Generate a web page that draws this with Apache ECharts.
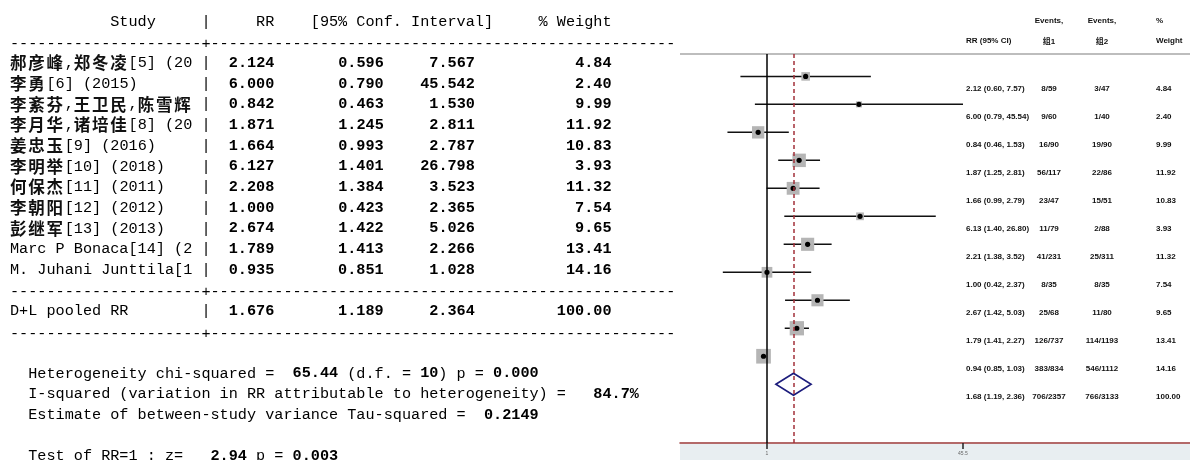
<!DOCTYPE html>
<html><head><meta charset="utf-8">
<script src="https://cdn.jsdelivr.net/npm/echarts@6/dist/echarts.min.js"></script>
<style>html,body{margin:0;padding:0;background:#fff}#c{width:1190px;height:460px}</style>
</head><body><div id="c"></div>
<script>
// ---------- data ----------
const studies = ['郝彦峰,郑冬凌[5] (20', '李勇[6] (2015)', '李紊芬,王卫民,陈雪辉', '李月华,诸培佳[8] (20',
  '姜忠玉[9] (2016)', '李明举[10] (2018)', '何保杰[11] (2011)', '李朝阳[12] (2012)', '彭继军[13] (2013)',
  'Marc P Bonaca[14] (2', 'M. Juhani Junttila[1'];
const rr      = [2.124, 6.000, 0.842, 1.871, 1.664, 6.127, 2.208, 1.000, 2.674, 1.789, 0.935];
const ciLow   = [0.596, 0.790, 0.463, 1.245, 0.993, 1.401, 1.384, 0.423, 1.422, 1.413, 0.851];
const ciHigh  = [7.567, 45.542, 1.530, 2.811, 2.787, 26.798, 3.523, 2.365, 5.026, 2.266, 1.028];
const weights = [4.84, 2.40, 9.99, 11.92, 10.83, 3.93, 11.32, 7.54, 9.65, 13.41, 14.16];
const events1 = ['8/59', '9/60', '16/90', '56/117', '23/47', '11/79', '41/231', '8/35', '25/68', '126/737', '383/834'];
const events2 = ['3/47', '1/40', '19/90', '22/86', '15/51', '2/88', '25/311', '8/35', '11/80', '114/1193', '546/1112'];
const pooledLabel = 'D+L pooled RR';
const pooledRR = 1.676, pooledLow = 1.189, pooledHigh = 2.364, pooledWeight = 100.00;
const pooledEvents1 = '706/2357', pooledEvents2 = '766/3133';
const hetChi2 = 65.44, hetDf = 10, hetP = 0.000, iSquared = 84.7, tau2 = 0.2149, testZ = 2.94, testP = 0.003;
const xTicks = [1, 45.5];

// ---------- helpers ----------
const CELL = 9.12, X0 = 10, ROW0 = 63, PITCH = 20.7;
const CJK = /[\u2E80-\u9FFF\uF900-\uFAFF\uFF00-\uFFEF]/;
function cells(s){ let n=0; for (const ch of s) n += CJK.test(ch)?2:1; return n; }
function splitCJK(style, s){
  const out=[]; let buf='';
  for (const ch of s){
    if (CJK.test(ch)){ if (buf){ out.push('{'+style+'|'+buf+'}'); buf=''; } out.push('{c|'+ch+'}'); }
    else buf += ch;
  }
  if (buf) out.push('{'+style+'|'+buf+'}');
  return out.join('');
}
function line(segs){ return segs.map(([st,t])=>splitCJK(st,t)).join(''); }
const rich = {
  r:{fontFamily:'Liberation Mono', fontSize:15.2, fontWeight:'normal', fill:'#000', lineHeight:20, verticalAlign:'middle'},
  b:{fontFamily:'Liberation Mono', fontSize:15.2, fontWeight:'bold', fill:'#000', lineHeight:20, verticalAlign:'middle'},
  c:{fontFamily:'Noto Sans CJK SC', fontSize:16.5, width:CELL*2, fontWeight:'bold', fill:'#111', lineHeight:20, verticalAlign:'middle'}
};
function tline(k, segs, dy){
  return {type:'text', x:X0, y:ROW0+PITCH*k+(dy||0), silent:true,
    style:{text:line(segs), rich, verticalAlign:'middle', align:'left'}};
}
function row(name, a, lo, hi, w){
  const nm = name + ' '.repeat(Math.max(0,20-cells(name)));
  return [['r', nm], ['r',' |  '], ['b', a.toFixed(3) + ' '.repeat(7) + lo.toFixed(3) + hi.toFixed(3).padStart(10) + w.toFixed(2).padStart(15)]];
}
const dashLine = [['r', '-'.repeat(21) + '+' + '-'.repeat(51)]];

const left = [];
left.push(tline(-2, [['r', ' '.repeat(11)+'Study'+' '.repeat(5)+'|'+' '.repeat(5)+'RR'+' '.repeat(4)+'[95% Conf. Interval]'+' '.repeat(5)+'% Weight']]));
left.push(tline(-1, dashLine, 1.5));
studies.forEach((s,i)=>left.push(tline(i, row(s, rr[i], ciLow[i], ciHigh[i], weights[i]))));
left.push(tline(11, dashLine, 1.5));
left.push(tline(12, row(pooledLabel, pooledRR, pooledLow, pooledHigh, pooledWeight)));
left.push(tline(13, dashLine, 1.5));
left.push(tline(15, [['r','  Heterogeneity chi-squared = '],['b',' '+hetChi2.toFixed(2)],['r',' (d.f. = '],['b',String(hetDf)],['r',') p = '],['b',hetP.toFixed(3)]]));
left.push(tline(16, [['r','  I-squared (variation in RR attributable to heterogeneity) = '],['b',iSquared.toFixed(1).padStart(6)+'%']]));
left.push(tline(17, [['r','  Estimate of between-study variance Tau-squared = '],['b',' '+tau2.toFixed(4)]]));
left.push(tline(19, [['r','  Test of RR=1 : z= '],['b',testZ.toFixed(2).padStart(6)],['r',' p = '],['b',testP.toFixed(3)]]));

// ---------- chart ----------
const chart = echarts.init(document.getElementById('c'), null, {renderer:'canvas'});
const studyData = rr.map((v,i)=>[i, ciLow[i], ciHigh[i], v, weights[i]]);
chart.setOption({
  animation:false,
  grid:{left:680, right:0, top:54, bottom:17},
  xAxis:{type:'log', logBase:10, min:0.1837, max:3793, position:'bottom',
    axisLine:{show:true, onZero:false, lineStyle:{color:'#9a3838', width:1.5}},
    axisTick:{show:true, customValues:xTicks, length:6, lineStyle:{color:'#222', width:1.5}},
    axisLabel:{show:true, customValues:xTicks, fontSize:5, color:'#666', margin:8, fontFamily:'Liberation Sans', formatter:v=>String(v)},
    splitLine:{show:false}, minorTick:{show:false}},
  yAxis:{type:'value', inverse:true, min:-0.8, max:13.1, show:false},
  series:[
    {type:'custom', silent:true, data:studyData, encode:{x:[1,2,3], y:0},
     renderItem(params, api){
       const y=api.value(0);
       const p1=api.coord([api.value(1),y]), p2=api.coord([api.value(2),y]), pc=api.coord([api.value(3),y]);
       const s=3.9*Math.sqrt(api.value(4));
       return {type:'group', children:[
         {type:'line', shape:{x1:p1[0],y1:p1[1],x2:p2[0],y2:p2[1]}, style:{stroke:'#111', lineWidth:1.5}},
         {type:'rect', shape:{x:pc[0]-s/2,y:pc[1]-s/2,width:s,height:s}, style:{fill:'#b5b5b5'}},
         {type:'circle', shape:{cx:pc[0],cy:pc[1],r:2.6}, style:{fill:'#000'}}
       ]};
     },
     markLine:{silent:true, symbol:['none','none'], label:{show:false},
       data:[{xAxis:1, lineStyle:{color:'#000', width:1.5, type:'solid'}},
             {xAxis:pooledRR, lineStyle:{color:'#a3303a', width:1.5, type:[4,3]}}]}
    },
    {type:'custom', silent:true, data:[[studies.length, pooledLow, pooledHigh, pooledRR]], encode:{x:[1,2,3], y:0},
     renderItem(params, api){
       const y=api.value(0);
       const pl=api.coord([api.value(1),y]), ph=api.coord([api.value(2),y]), pc=api.coord([api.value(3),y]);
       return {type:'polygon', shape:{points:[[pl[0],pl[1]],[pc[0],pc[1]-11],[ph[0],ph[1]],[pc[0],pc[1]+11]]},
         style:{fill:'none', stroke:'#1c1c7c', lineWidth:1.6}};
     }}
  ]
});

// right-hand text table, y positions from the chart's own y axis
const right = [];
const tf = {fontFamily:'Liberation Sans, Noto Sans CJK SC', fontSize:8, fontWeight:'bold', fill:'#111'};
function rt(x,y,text,align){ right.push({type:'text', x, y, silent:true, style:Object.assign({text, align:align||'left', verticalAlign:'middle'}, tf)}); }
rt(1049,21,'Events,','center'); rt(1049,42,'组1','center');
rt(1102,21,'Events,','center'); rt(1102,42,'组2','center');
rt(1156,21,'%'); rt(1156,41,'Weight'); rt(966,41,'RR (95% CI)');
function fmtCI(a,l,h){ return a.toFixed(2)+' ('+l.toFixed(2)+', '+h.toFixed(2)+')'; }
const allRR=[...rr,pooledRR], allLo=[...ciLow,pooledLow], allHi=[...ciHigh,pooledHigh], allW=[...weights,pooledWeight];
const allE1=[...events1,pooledEvents1], allE2=[...events2,pooledEvents2];
allRR.forEach((v,i)=>{
  const y = chart.convertToPixel({yAxisIndex:0}, i) + 12.3;
  rt(966, y, fmtCI(v, allLo[i], allHi[i]));
  rt(1049, y, allE1[i], 'center');
  rt(1102, y, allE2[i], 'center');
  rt(1156, y, allW[i].toFixed(2));
});

chart.setOption({graphic:[
  {type:'rect', z:-10, silent:true, shape:{x:680,y:444,width:510,height:16}, style:{fill:'#e8eef1'}},
  {type:'line', silent:true, shape:{x1:680,y1:54,x2:1190,y2:54}, style:{stroke:'#bdbdbd', lineWidth:2}},
  ...left, ...right
]});
</script></body></html>
